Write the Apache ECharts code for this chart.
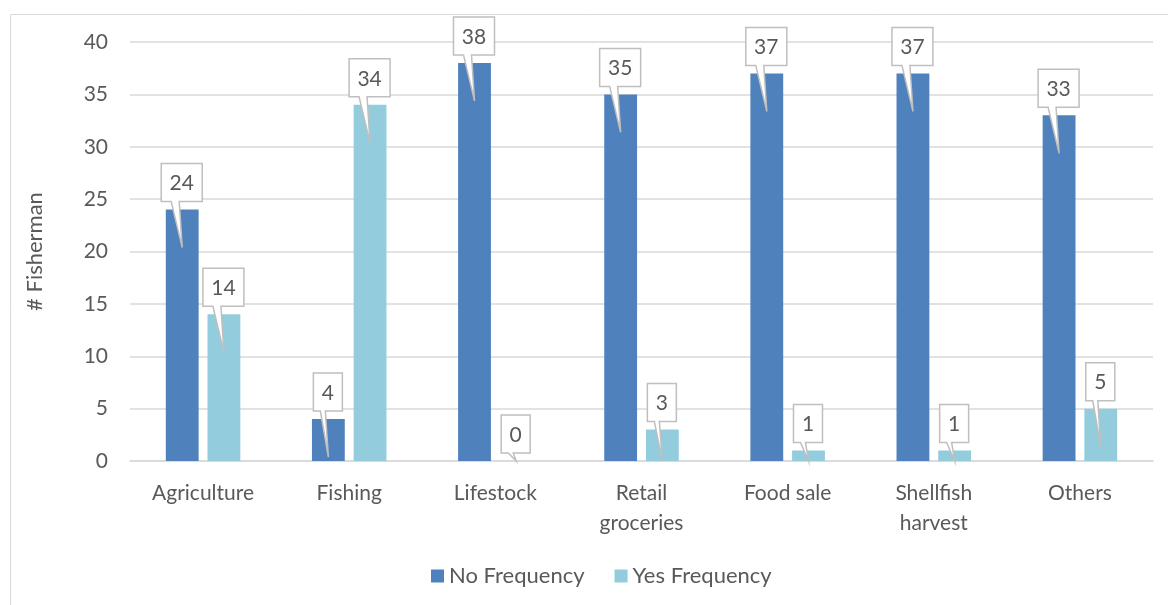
<!DOCTYPE html>
<html><head><meta charset="utf-8">
<script src="https://cdn.jsdelivr.net/npm/echarts@6/dist/echarts.min.js"></script>
<style>html,body{margin:0;padding:0;background:#fff}#c{width:1168px;height:605px}</style>
</head><body><div id="c"></div>
<script>
var categories = ['Agriculture', 'Fishing', 'Lifestock', 'Retail\ngroceries', 'Food sale', 'Shellfish\nharvest', 'Others'];
var noFrequency = [24, 4, 38, 35, 37, 37, 33];
var yesFrequency = [14, 34, 0, 3, 1, 1, 5];
var seriesNames = ['No Frequency', 'Yes Frequency'];
var yTicks = [0, 5, 10, 15, 20, 25, 30, 35, 40];

var FONT = 'Lato, "Open Sans", sans-serif';
var TXT = '#595959';
var CAT_GAP = 0.49, BAR_GAP = 0.27;

function calloutSeries(values, idx) {
  return {
    type: 'custom',
    name: seriesNames[idx],
    z: 10,
    silent: true,
    legendHoverLink: false,
    data: values.map(function (v, i) { return [i, v]; }),
    renderItem: function (params, api) {
      var ci = api.value(0), v = api.value(1);
      var band = api.size([1, 0])[0];
      var bw = band * (1 - CAT_GAP) / (2 + BAR_GAP);
      var off = bw * (1 + BAR_GAP) / 2 * (idx === 0 ? -1 : 1);
      var top = api.coord([ci, v]);
      var base = api.coord([ci, 0]);
      var cx = top[0] + off;
      var ty = top[1];
      var label = String(v);
      var w = label.length > 1 ? 41 : 29;
      var h = 38;
      var L = cx - w / 2 - 0.5, R = cx + w / 2 - 0.5;
      var B = ty - 8, T = B - h;
      var tipY = Math.min(ty + 38, base[1]);
      var tb1 = cx - (label.length > 1 ? 11 : 8), tb2 = cx - 3;
      return {
        type: 'group',
        children: [{
          type: 'polygon',
          shape: { points: [[L, T], [R, T], [R, B], [tb2, B], [cx, tipY], [tb1, B], [L, B]] },
          style: { fill: '#fff', stroke: '#BFBFBF', lineWidth: 1.5 }
        }, {
          type: 'text',
          style: { text: label, x: (L + R) / 2, y: (T + B) / 2 + 1, align: 'center', verticalAlign: 'middle',
                   fill: TXT, font: '21px ' + FONT }
        }]
      };
    }
  };
}

var chart = echarts.init(document.getElementById('c'));
chart.setOption({
  backgroundColor: '#fff',
  animation: false,
  graphic: [{ type: 'rect', shape: { x: 10.5, y: 14.5, width: 1200, height: 700 },
              style: { fill: 'none', stroke: '#D9D9D9', lineWidth: 1 }, z: -10 }],
  grid: { left: 130, right: 15, top: 42, bottom: 144 },
  legend: {
    data: seriesNames, bottom: 13, left: 426, itemWidth: 13, itemHeight: 13, itemGap: 30,
    icon: 'rect', textStyle: { color: TXT, fontSize: 22, fontFamily: FONT }
  },
  xAxis: {
    type: 'category', data: categories,
    axisLine: { lineStyle: { color: '#D9D9D9', width: 1.5 } },
    axisTick: { show: false },
    axisLabel: { color: TXT, fontSize: 21, fontFamily: FONT, margin: 17, lineHeight: 30 }
  },
  yAxis: {
    type: 'value', min: 0, max: 40, interval: 5,
    name: '# Fisherman', nameLocation: 'middle', nameGap: 84, nameRotate: 90,
    nameTextStyle: { color: TXT, fontSize: 22, fontFamily: FONT },
    axisLine: { show: false }, axisTick: { show: false },
    axisLabel: { color: TXT, fontSize: 21, fontFamily: FONT, margin: 22,
                 formatter: function (v) { return yTicks.indexOf(v) >= 0 ? String(v) : ''; } },
    splitLine: { lineStyle: { color: '#D9D9D9', width: 1.5 } }
  },
  series: [
    { type: 'bar', name: seriesNames[0], data: noFrequency, itemStyle: { color: '#4F81BD' },
      barCategoryGap: (CAT_GAP * 100) + '%', barGap: (BAR_GAP * 100) + '%' },
    { type: 'bar', name: seriesNames[1], data: yesFrequency, itemStyle: { color: '#93CDDD' },
      barCategoryGap: (CAT_GAP * 100) + '%', barGap: (BAR_GAP * 100) + '%' },
    calloutSeries(noFrequency, 0),
    calloutSeries(yesFrequency, 1)
  ]
});
</script></body></html>
